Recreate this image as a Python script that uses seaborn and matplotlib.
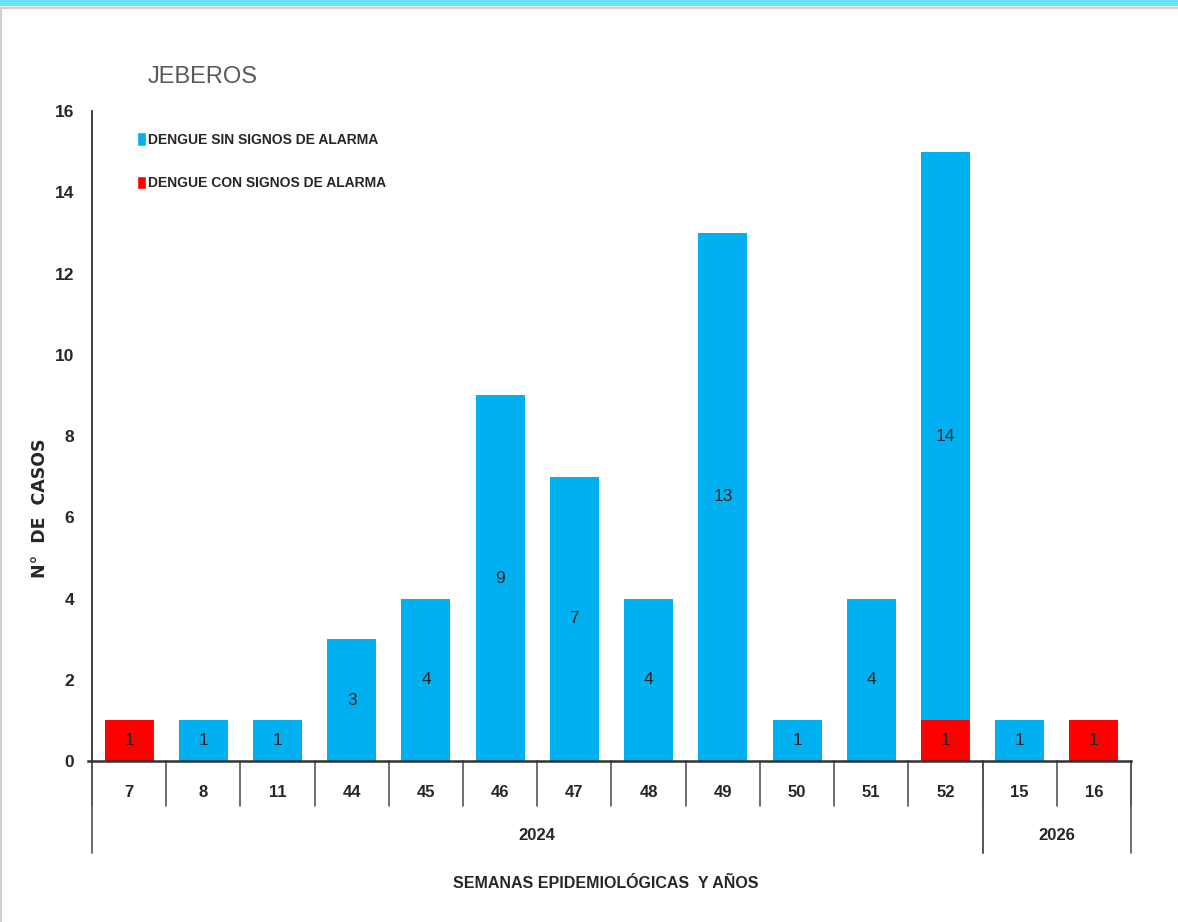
import pandas as pd
import seaborn as sns
import matplotlib.pyplot as plt
from matplotlib.patches import Patch, Rectangle
from matplotlib.lines import Line2D
import matplotlib.transforms as mtransforms

# Data
semanas = ['7', '8', '11', '44', '45', '46', '47', '48', '49', '50', '51', '52', '15', '16']
anios = ['2024'] * 12 + ['2026'] * 2
sin_signos = [0, 1, 1, 3, 4, 9, 7, 4, 13, 1, 4, 14, 1, 0]
con_signos = [1, 0, 0, 0, 0, 0, 0, 0, 0, 0, 0, 1, 0, 1]

df = pd.DataFrame({'semana': semanas, 'anio': anios,
                   'sin': sin_signos, 'con': con_signos})
df['total'] = df['sin'] + df['con']

AZUL = '#00b0f0'
ROJO = '#ff0000'

sns.set_style('white')
plt.rcParams['font.family'] = ['Liberation Sans', 'DejaVu Sans']

fig = plt.figure(figsize=(11.78, 9.22), dpi=100)
ax = fig.add_axes([0.0781, 0.1746, 0.882, 0.705])

# stacked bars: total in blue, red part on the bottom
sns.barplot(data=df, x='semana', y='total', order=semanas, color=AZUL,
            width=0.66, saturation=1, linewidth=0, ax=ax)
sns.barplot(data=df, x='semana', y='con', order=semanas, color=ROJO,
            width=0.66, saturation=1, linewidth=0, ax=ax)

# value labels in the middle of each segment
for bar, s, c in zip(ax.containers[0], df['sin'], df['con']):
    xc = bar.get_x() + bar.get_width() / 2
    if s > 0:
        ax.text(xc, c + s / 2, str(s), ha='center', va='center', fontsize=12.5)
    if c > 0:
        ax.text(xc, c / 2, str(c), ha='center', va='center', fontsize=12.5)

ax.set_ylim(0, 16)
ax.set_xlim(-0.5, len(semanas) - 0.5)
ax.set_yticks(range(0, 17, 2))
ax.tick_params(axis='y', direction='out', length=5, width=1.2, color='#333333',
               labelsize=12.5, pad=8)
for lbl in ax.get_yticklabels():
    lbl.set_fontweight('bold')
ax.set_xticks([])
ax.set_xlabel('')
ax.set_ylabel('')
for side in ['top', 'right']:
    ax.spines[side].set_visible(False)
ax.spines['left'].set_color('#333333')
ax.spines['bottom'].set_color('#333333')
ax.spines['left'].set_linewidth(1.3)
ax.spines['bottom'].set_linewidth(1.8)
ax.spines['bottom'].set_bounds(-0.56, len(semanas) - 0.5)

# category axis with weeks and years
trans = mtransforms.blended_transform_factory(ax.transData, ax.transAxes)
for i in range(len(semanas) + 1):
    x = i - 0.5
    ax.add_line(Line2D([x, x], [0, -0.069], transform=trans, color='#555555',
                       lw=1.2, clip_on=False))
for i, sem in enumerate(semanas):
    ax.text(i, -0.049, sem, transform=trans, ha='center', va='center',
            fontsize=12, fontweight='bold')
grupos = df.groupby('anio', sort=False).size()
inicio = 0
for anio, n in grupos.items():
    for x in [inicio - 0.5, inicio + n - 0.5]:
        ax.add_line(Line2D([x, x], [0, -0.1415], transform=trans,
                           color='#555555', lw=1.2, clip_on=False))
    ax.text(inicio + (n - 1) / 2, -0.115, anio, transform=trans,
            ha='center', va='center', fontsize=12, fontweight='bold')
    inicio += n

fig.text(0.514, 1 - 883 / 922, 'SEMANAS EPIDEMIOLÓGICAS  Y AÑOS', ha='center',
         va='center', fontsize=11.5, fontweight='bold')
fig.text(0.034, 1 - 508 / 922, 'N°  DE  CASOS', rotation=90, ha='center',
         va='center', fontsize=12.5, fontweight='bold', family='DejaVu Sans')
fig.text(148 / 1178, 1 - 77 / 922, 'JEBEROS', ha='left', va='center',
         fontsize=17, color='#595959')

handles = [Patch(facecolor=AZUL, label='DENGUE SIN SIGNOS DE ALARMA'),
           Patch(facecolor=ROJO, label='DENGUE CON SIGNOS DE ALARMA')]
leg = fig.legend(handles=handles, loc='upper left',
                 bbox_to_anchor=(124 / 1178, 1 - 120 / 922), frameon=False,
                 prop={'weight': 'bold', 'size': 10}, handlelength=0.7,
                 handleheight=1.1, handletextpad=0.15, labelspacing=2.1)

# page decoration: top stripe and thin grey frame
fig.patches.append(Rectangle((0, 1 - 6 / 922), 1, 6 / 922, transform=fig.transFigure,
                             facecolor='#66e3fb', edgecolor='none'))
fig.add_artist(Line2D([0, 1], [1 - 8 / 922, 1 - 8 / 922], color='#d0d0d0', lw=1.5))
fig.add_artist(Line2D([1 / 1178, 1 / 1178], [0, 1 - 8 / 922], color='#d0d0d0', lw=1.5))

fig.savefig('out.png', dpi=100)
